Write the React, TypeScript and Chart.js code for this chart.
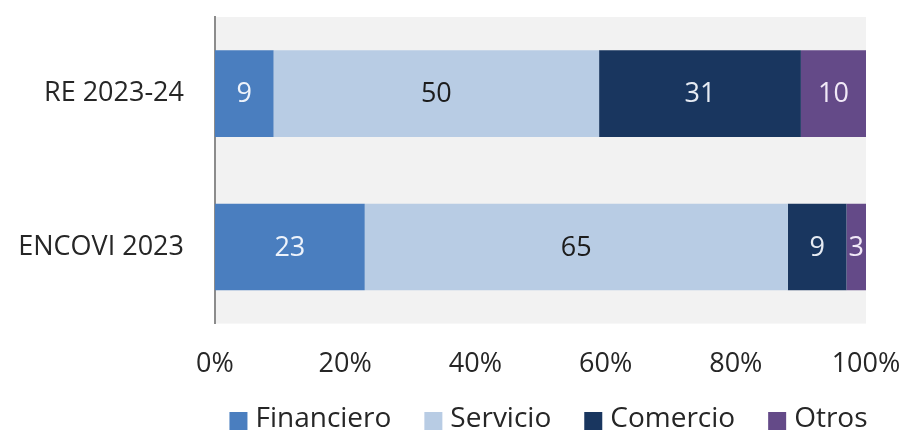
import React, { useEffect, useRef } from "react";
import { Chart, registerables } from "chart.js";

Chart.register(...registerables);

const categories = ["RE 2023-24", "ENCOVI 2023"];
const seriesNames = ["Financiero", "Servicio", "Comercio", "Otros"];
const financiero = [9, 23];
const servicio = [50, 65];
const comercio = [31, 9];
const otros = [10, 3];
const xTicks = [0, 20, 40, 60, 80, 100];

const colors = ["#4a7ebf", "#b8cce4", "#19365f", "#644a88"];
const labelColors = ["#eef3fb", "#1c1c1c", "#e6ebf3", "#f1e9f7"];

const FONT = "'Open Sans', 'Noto Sans', sans-serif";

const bgPlugin = {
  id: "plotBg",
  beforeDraw(chart: any) {
    const { ctx, chartArea } = chart;
    ctx.save();
    ctx.fillStyle = "#f2f2f2";
    ctx.fillRect(chartArea.left, chartArea.top, chartArea.right - chartArea.left, chartArea.bottom - chartArea.top);
    ctx.restore();
  },
};

const labelPlugin = {
  id: "barLabels",
  afterDatasetsDraw(chart: any) {
    const { ctx } = chart;
    ctx.save();
    ctx.font = `27px ${FONT}`;
    ctx.textAlign = "center";
    ctx.textBaseline = "middle";
    chart.data.datasets.forEach((ds: any, di: number) => {
      const meta = chart.getDatasetMeta(di);
      meta.data.forEach((el: any, i: number) => {
        const v = ds.data[i];
        const cx = (el.x + el.base) / 2;
        ctx.fillStyle = labelColors[di];
        ctx.fillText(String(v), cx, el.y + 1);
      });
    });
    ctx.restore();
  },
};

// Legend drawn from the chart's own datasets (names and colours)
const legendPlugin = {
  id: "bottomLegend",
  afterDraw(chart: any) {
    const { ctx, chartArea } = chart;
    const box = 18;
    const gap = 8;
    const spacing = 33;
    ctx.save();
    ctx.font = `28px ${FONT}`;
    ctx.textBaseline = "middle";
    ctx.textAlign = "left";
    const items = chart.data.datasets.map((ds: any) => ({
      text: ds.label,
      color: ds.backgroundColor,
      w: ctx.measureText(ds.label).width,
    }));
    const total =
      items.reduce((s: number, it: any) => s + box + gap + it.w, 0) + spacing * (items.length - 1);
    const center = (chartArea.left + chartArea.right) / 2 + 8;
    let x = center - total / 2;
    const yMid = 419;
    items.forEach((it: any) => {
      ctx.fillStyle = it.color;
      ctx.fillRect(x, yMid - box / 2 + 2, box, box);
      ctx.fillStyle = "#262626";
      ctx.fillText(it.text, x + box + gap, yMid);
      x += box + gap + it.w + spacing;
    });
    ctx.restore();
  },
};

export default function App() {
  const ref = useRef<HTMLCanvasElement>(null);
  useEffect(() => {
    document.body.style.margin = "0";
    const data = [financiero, servicio, comercio, otros];
    const chart = new Chart(ref.current!, {
      type: "bar",
      data: {
        labels: categories,
        datasets: seriesNames.map((name, i) => ({
          label: name,
          data: data[i],
          backgroundColor: colors[i],
          borderWidth: 0,
          barPercentage: 0.565,
          categoryPercentage: 1,
        })),
      },
      options: {
        indexAxis: "y",
        animation: false,
        responsive: true,
        maintainAspectRatio: false,
        layout: { padding: { top: 17, right: 37, left: 0, bottom: 24 } },
        scales: {
          x: {
            stacked: true,
            min: 0,
            max: 100,
            afterBuildTicks(scale: any) {
              scale.ticks = xTicks.map((v) => ({ value: v }));
            },
            afterFit(scale: any) {
              scale.paddingLeft = 0;
              scale.paddingRight = 0;
            },
            grid: { display: false, drawTicks: false },
            border: { display: false },
            ticks: {
              padding: 25,
              color: "#262626",
              font: { family: FONT, size: 27 },
              callback: (v: any) => v + "%",
            },
          },
          y: {
            stacked: true,
            afterFit(scale: any) {
              scale.width = 215;
              scale.paddingTop = 0;
              scale.paddingBottom = 0;
            },
            grid: { display: false, drawTicks: false },
            border: { display: true, color: "#8c8c8c", width: 2 },
            ticks: {
              padding: 31,
              color: "#262626",
              font: { family: FONT, size: 27 },
            },
          },
        },
        plugins: {
          legend: { display: false },
          tooltip: { enabled: false },
        },
      },
      plugins: [bgPlugin, labelPlugin, legendPlugin],
    });
    return () => chart.destroy();
  }, []);
  return (
    <div style={{ position: "fixed", left: 0, top: 0, width: 903, height: 430 }}>
      <canvas ref={ref} />
    </div>
  );
}
